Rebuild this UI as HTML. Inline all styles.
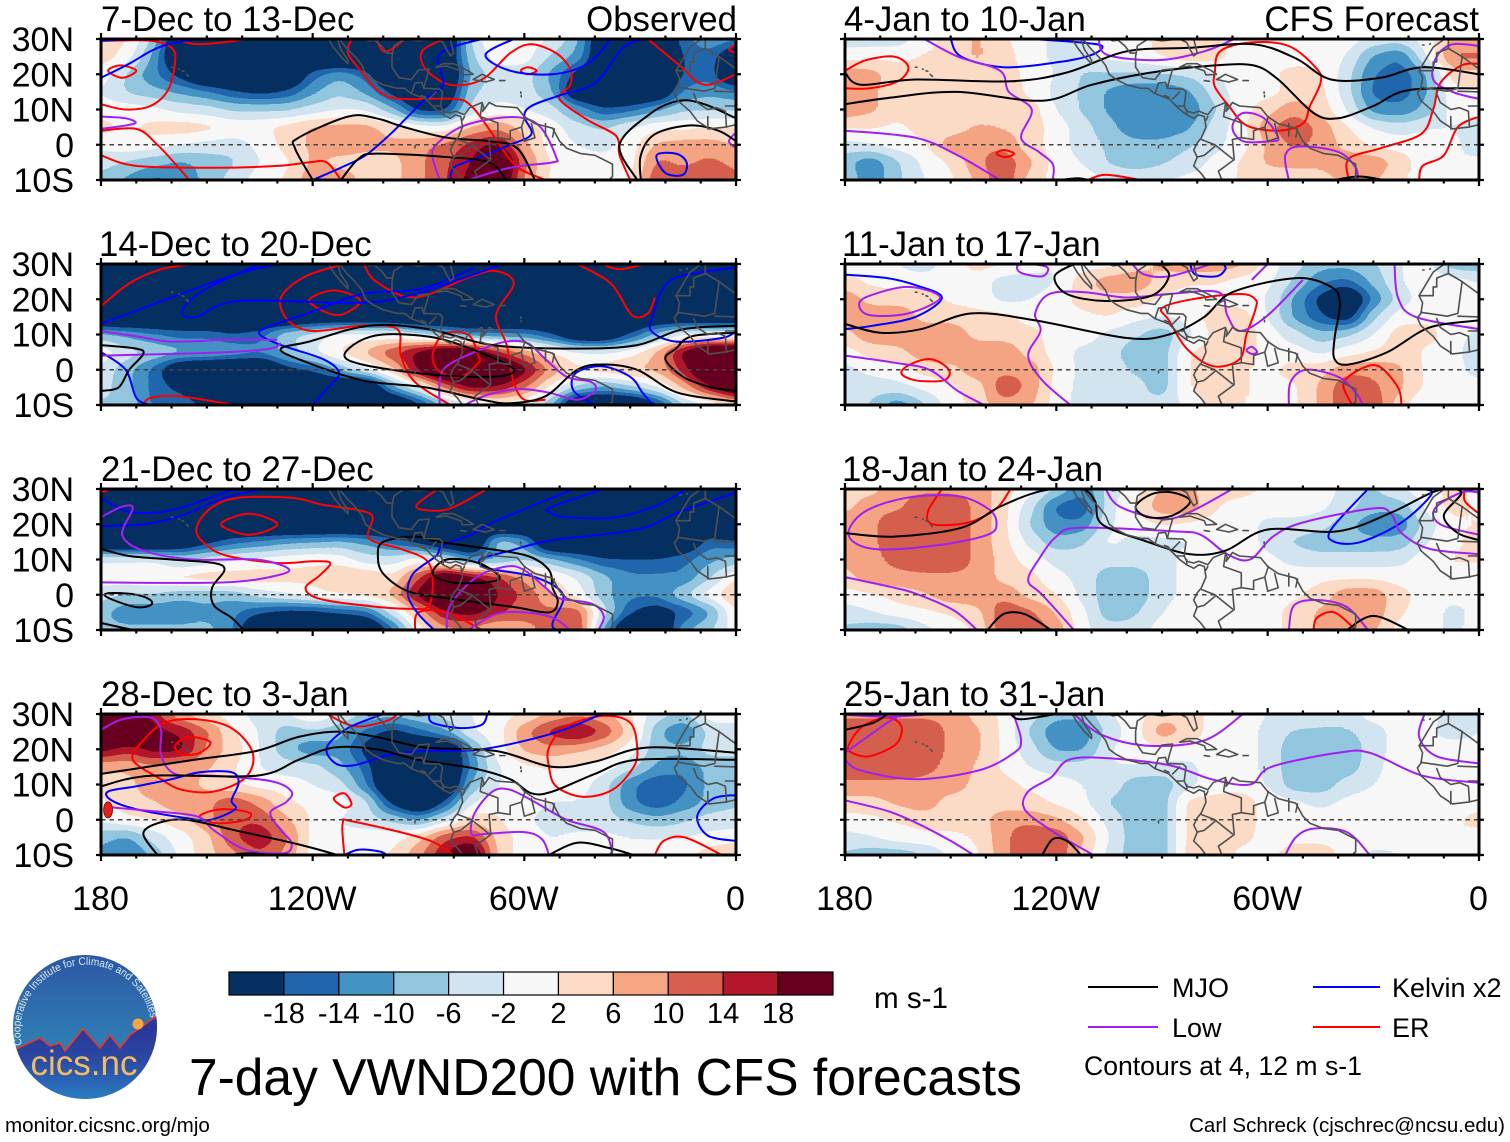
<!DOCTYPE html>
<html lang="en">
<head>
<meta charset="utf-8">
<title>7-day VWND200 with CFS forecasts</title>
<style>
html,body{margin:0;padding:0;background:#fff;}
svg{display:block;font-family:"Liberation Sans",sans-serif;}
</style>
</head>
<body>
<svg id="chart" xmlns="http://www.w3.org/2000/svg" width="1510" height="1142" viewBox="0 0 1510 1142">
  <defs>
    <filter id="bandFilter" filterUnits="userSpaceOnUse" x="0" y="0" width="1510" height="1142" color-interpolation-filters="sRGB">
      <feGaussianBlur stdDeviation="10 6.5"/>
      <feComponentTransfer>
        <feFuncR type="discrete" tableValues="0.020 0.020 0.020 0.129 0.263 0.573 0.820 0.969 0.992 0.957 0.839 0.698 0.404 0.404 0.404"/>
        <feFuncG type="discrete" tableValues="0.188 0.188 0.188 0.400 0.576 0.773 0.898 0.969 0.859 0.647 0.376 0.094 0.000 0.000 0.000"/>
        <feFuncB type="discrete" tableValues="0.380 0.380 0.380 0.675 0.765 0.871 0.941 0.969 0.780 0.510 0.302 0.169 0.122 0.122 0.122"/>
      </feComponentTransfer>
    </filter>
    <linearGradient id="logoSky" x1="0" y1="0" x2="0" y2="1">
      <stop offset="0" stop-color="#2c58a4"/>
      <stop offset="0.6" stop-color="#2f7cb4"/>
      <stop offset="1" stop-color="#2f7cb4"/>
    </linearGradient>
    <linearGradient id="logoGround" gradientUnits="userSpaceOnUse" x1="0" y1="1030" x2="0" y2="1099">
      <stop offset="0" stop-color="#2b3698"/>
      <stop offset="0.45" stop-color="#2b4aa4"/>
      <stop offset="1" stop-color="#2a7cc0"/>
    </linearGradient>
    <clipPath id="logoClip"><circle cx="85" cy="1027" r="72"/></clipPath>
    <path id="logoArc" d="M22 1045 A65.5 65.5 0 1 1 150 1016"/>
  </defs>
  <rect x="0" y="0" width="1510" height="1142" fill="#ffffff"/>
  <g id="panels"></g>

  <g font-size="34.8" fill="#000">
    <text x="101" y="31">7-Dec to 13-Dec</text>
    <text x="737" y="31" text-anchor="end">Observed</text>
    <text x="99" y="256">14-Dec to 20-Dec</text>
    <text x="101" y="481">21-Dec to 27-Dec</text>
    <text x="101" y="706">28-Dec to 3-Jan</text>
    <text x="844" y="31">4-Jan to 10-Jan</text>
    <text x="1479" y="31" text-anchor="end">CFS Forecast</text>
    <text x="842" y="256">11-Jan to 17-Jan</text>
    <text x="842" y="481">18-Jan to 24-Jan</text>
    <text x="844" y="706">25-Jan to 31-Jan</text>
  </g>

  <g id="colorbar"></g>
  <text x="874" y="1008" font-size="29.6">m s-1</text>

  <g>
    <circle cx="85" cy="1027" r="72" fill="url(#logoSky)"/>
    <g clip-path="url(#logoClip)">
      <path d="M12 1052 L18 1048 L40 1038 L50 1046 L60 1043 L65 1051 L83 1029 L100 1048 L110 1035 L120 1048 L130 1035 L158 1015 L165 1015 L165 1105 L5 1105 Z" fill="url(#logoGround)"/>
      <path d="M12 1052 L18 1048 L40 1038 L50 1046 L60 1043 L65 1051 L83 1029 L100 1048 L110 1035 L120 1048 L130 1035 L158 1015" fill="none" stroke="#e23a2c" stroke-width="1.6"/>
    </g>
    <circle cx="138" cy="1024" r="5.5" fill="#f5a742"/>
    <text font-size="11" fill="#dbe7f5"><textPath href="#logoArc" textLength="208" lengthAdjust="spacingAndGlyphs">Cooperative Institute for Climate and Satellites</textPath></text>
    <text x="84" y="1075" font-size="35" fill="#f3bb62" text-anchor="middle">cics.nc</text>
  </g>

  <text x="189" y="1095" font-size="51.5">7-day VWND200 with CFS forecasts</text>
  <text x="5" y="1132" font-size="20.6">monitor.cicsnc.org/mjo</text>
  <text x="1505" y="1132" font-size="20.5" text-anchor="end">Carl Schreck (cjschrec@ncsu.edu)</text>

  <g font-size="27">
    <line x1="1088" x2="1158" y1="987" y2="987" stroke="#000" stroke-width="2"/>
    <text x="1172" y="997">MJO</text>
    <line x1="1313" x2="1380" y1="987" y2="987" stroke="#0000ff" stroke-width="2"/>
    <text x="1392" y="997">Kelvin x2</text>
    <line x1="1088" x2="1158" y1="1027" y2="1027" stroke="#a020f0" stroke-width="2"/>
    <text x="1172" y="1037">Low</text>
    <line x1="1313" x2="1380" y1="1027" y2="1027" stroke="#ff0000" stroke-width="2"/>
    <text x="1392" y="1037">ER</text>
    <text x="1084" y="1075" font-size="26.6">Contours at 4, 12 m s-1</text>
  </g>
</svg>
<script>
/* Wind grids: rows at 30,25,...,-10 latitude; columns every 7.5 degrees from 180 to 0 */
const gridLats = [30,25,20,15,10,5,0,-5,-10];
const gridLonsWest = [180,172.5,165,157.5,150,142.5,135,127.5,120,112.5,105,97.5,90,82.5,75,67.5,60,52.5,45,37.5,30,22.5,15,7.5,0];
const yTickLabels = ["30N","20N","10N","0","10S"];
const yTickLats = [30,20,10,0,-10];
const xTickLabels = ["180","120W","60W","0"];
const xTickLons = [180,120,60,0];
const colorbarLabels = ["-18","-14","-10","-6","-2","2","6","10","14","18"];
const colorbarColors = ["#053061","#2166ac","#4393c3","#92c5de","#d1e5f0","#f7f7f7","#fddbc7","#f4a582","#d6604d","#b2182b","#67001f"];

const windDec7 = [
[4,2,-6,-28,-28,-28,-28,-28,-28,-28,-24,-28,-28,-28,-4,2,0,-2,-8,-24,-28,-28,-14,-10,-12],
[4,0,-10,-28,-28,-28,-28,-28,-28,-28,-28,-28,-28,-24,-6,0,0,-6,-10,-24,-28,-28,-16,-14,-24],
[0,-6,-12,-18,-28,-28,-28,-28,-14,-10,-14,-28,-28,-28,-8,-4,-4,-10,-18,-28,-28,-28,-16,-14,-28],
[-2,-6,-8,-10,-12,-16,-18,-16,-10,-6,-10,-18,-28,-24,-6,-4,-4,-8,-24,-28,-28,-24,-12,-10,-12],
[0,0,-1,-3,-4,-6,-6,-6,-4,-2,-2,-8,-18,-18,-4,0,-2,-4,-10,-16,-14,-10,-6,-6,-6],
[3,1,3,4,3,1,1,3,6,7,7,4,0,-1,6,8,4,0,-4,-6,-2,1,1,2,2],
[-1,1,0,-2,-3,-4,-1,3,6,8,6,6,8,10,14,18,6,0,-2,-3,0,6,7,7,5],
[-4,-6,-8,-10,-8,-6,-2,1,6,4,4,4,8,12,16,28,10,1,0,-1,0,10,8,10,8],
[-7,-10,-14,-12,-8,-4,0,2,8,8,4,4,8,12,18,24,8,1,0,0,1,12,12,12,10]];
const windDec14 = [
[-28,-28,-28,-28,-28,-28,-28,-28,-28,-28,-28,-28,-28,-28,-28,-28,-28,-28,-28,-28,-28,-28,-28,-28,-28],
[-28,-28,-28,-28,-28,-28,-28,-28,-28,-28,-28,-28,-28,-28,-28,-28,-28,-28,-28,-28,-28,-28,-28,-28,-28],
[-28,-28,-28,-28,-28,-28,-28,-28,-28,-28,-28,-28,-28,-28,-28,-28,-28,-28,-28,-28,-28,-28,-28,-28,-28],
[-28,-28,-28,-28,-28,-28,-28,-28,-24,-24,-24,-24,-28,-28,-28,-28,-28,-28,-28,-28,-28,-24,-24,-24,-24],
[-8,-10,-12,-14,-14,-16,-14,-6,-4,0,-1,-1,-4,-8,-12,-12,-12,-16,-24,-24,-16,-8,-2,-2,-2],
[1,-4,-6,-8,-8,-10,-12,-8,-2,2,6,12,18,24,24,14,8,2,-1,-2,0,6,18,28,28],
[-3,-8,-14,-24,-28,-28,-28,-18,-16,-8,-2,4,18,28,28,28,18,8,2,4,6,6,14,28,28],
[-4,-8,-14,-18,-28,-28,-28,-28,-28,-28,-28,-10,-2,10,18,16,10,1,-6,-10,-6,-2,6,16,24],
[-6,-6,-14,-12,-18,-28,-28,-28,-28,-28,-28,-28,-18,-8,-4,0,-2,-8,-28,-28,-28,-18,-6,-2,4]];
const windDec21 = [
[-28,-28,-28,-28,-28,-28,-28,-28,-28,-28,-28,-28,-28,-28,-28,-28,-28,-28,-28,-28,-28,-28,-28,-28,-28],
[-28,-28,-28,-28,-28,-28,-28,-28,-28,-28,-28,-28,-28,-28,-28,-28,-28,-28,-28,-28,-28,-28,-28,-28,-28],
[-28,-28,-28,-28,-28,-28,-28,-28,-28,-28,-28,-28,-28,-28,-28,-28,-28,-28,-28,-28,-28,-28,-28,-28,-28],
[-28,-28,-28,-24,-18,-14,-12,-10,-9,-8,-10,-14,-18,-24,-28,-6,-10,-28,-28,-28,-28,-28,-24,-14,-16],
[-2,-2,-2,-6,-4,-2,-1,0,1,0,-4,-4,0,-4,-12,-10,-6,-8,-12,-16,-16,-16,-14,-10,-8],
[0,1,2,3,4,4,4,3,3,6,6,2,12,24,18,14,8,2,-2,-8,-12,-12,-12,-6,2],
[-4,-6,-6,-8,-8,-8,-4,-2,0,2,3,6,18,28,28,16,12,6,0,-8,-12,-12,-6,0,6],
[-8,-12,-12,-12,-10,-12,-16,-18,-18,-16,-14,-4,6,16,18,14,10,10,12,-4,-16,-20,-16,-10,2],
[-8,-8,-8,-8,-8,-12,-28,-28,-28,-28,-28,-14,0,8,8,4,8,10,14,-10,-28,-28,-10,-6,0]];
const windDec28 = [
[24,28,14,6,2,0,-4,-2,2,-2,-6,-8,-6,-4,-2,0,2,6,8,6,2,-4,-6,0,0],
[28,28,18,16,10,2,-2,-8,-6,-8,-14,-18,-14,-10,-2,0,8,14,18,12,4,-8,-14,-4,-4],
[18,14,18,18,8,4,-2,-8,-12,-10,-18,-28,-28,-28,-10,0,6,8,6,4,0,-8,-8,-4,-4],
[6,6,8,6,6,2,-2,-4,-4,-8,-14,-28,-28,-28,-12,-2,1,2,1,0,-4,-10,-12,-8,-8],
[3,4,8,8,4,2,0,0,-2,-4,-12,-28,-28,-28,-8,-2,0,0,0,-4,-12,-16,-14,-8,-6],
[1,4,5,8,8,12,8,2,1,0,-4,-18,-28,-16,-2,1,0,-2,-2,-4,-12,-16,-12,-8,-6],
[-1,1,2,4,8,12,12,6,1,-2,-4,-6,-10,-4,4,2,-1,-4,-4,-4,-6,-8,-6,-4,-4],
[-8,-10,-4,0,4,12,16,10,0,-1,0,0,4,12,14,4,0,-2,-1,-1,-2,-2,-2,-1,0],
[-10,-14,-8,-1,4,8,12,8,0,0,0,2,8,16,24,4,0,-1,0,0,0,0,0,4,6]];
const windJan4 = [
[-4,-4,-4,0,3,6,2,0,-3,-2,0,0,3,3,2,0,0,0,0,0,-3,-4,0,6,6],
[0,1,1,2,3,6,3,0,-3,-3,-1,0,2,4,3,0,0,0,1,-2,-10,-13,-2,10,10],
[8,7,3,3,3,3,3,1,-2,-6,-6,-6,-6,-5,-2,0,1,3,2,-4,-13,-15,-10,4,4],
[8,6,3,3,3,3,4,1,-3,-6,-10,-12,-12,-10,-4,0,0,3,3,-4,-14,-15,-10,1,1],
[8,6,3,3,2,2,4,4,-2,-6,-10,-12,-12,-12,-6,0,4,8,4,-2,-11,-12,-8,0,0],
[2,2,1,3,3,6,5,4,0,-4,-8,-12,-12,-10,-4,0,8,12,8,2,-2,-4,-2,-2,-4],
[-3,-2,0,1,8,8,8,3,0,-4,-6,-8,-8,-6,-3,0,6,10,8,4,1,0,0,-1,-4],
[-8,-12,-6,-1,2,8,12,6,0,-2,-6,-8,-6,-4,-1,2,6,6,6,8,8,4,-1,-2,-1],
[-6,-12,-6,-2,1,6,12,4,0,0,-2,-2,-2,-1,0,2,3,4,4,6,6,2,0,-2,0]];
const windJan11 = [
[0,0,-2,-4,0,3,2,0,-2,0,0,4,6,8,8,6,0,-4,-8,-8,-6,-2,0,-8,-8],
[3,1,0,0,0,0,-4,-4,-2,4,8,8,4,2,2,0,-1,-6,-12,-14,-8,-2,0,0,-2],
[8,4,4,4,1,0,-3,-2,0,3,4,4,1,0,0,0,-2,-10,-18,-26,-12,-4,0,0,0],
[8,8,8,4,4,3,3,0,0,1,2,-1,-2,-1,4,4,-2,-10,-16,-20,-6,0,1,0,0],
[4,8,8,8,8,4,4,3,0,0,-3,-5,-8,-3,3,4,0,-4,-8,-6,-2,4,3,0,-3],
[0,3,4,8,8,8,8,4,0,-3,-4,-8,-8,2,3,4,0,0,-3,0,2,4,1,0,-6],
[-3,-1,0,3,4,8,8,8,1,-3,-4,-6,-8,2,3,2,1,3,4,8,8,6,1,0,-4],
[-4,-4,-3,-1,1,3,12,8,0,-3,-4,-4,-8,2,3,2,1,1,6,12,10,6,1,0,0],
[-1,-6,-12,-6,0,3,8,6,0,-4,-4,-4,-4,-1,3,2,0,1,6,12,12,3,-2,0,0]];
const windJan18 = [
[3,4,8,8,8,8,3,0,-6,-12,-4,0,6,6,3,3,1,0,0,-3,-6,-2,0,3,0],
[4,8,8,12,12,8,3,-4,-14,-16,-3,2,8,8,2,0,0,0,-1,-4,-8,-8,-1,3,1],
[8,8,12,12,12,8,3,-6,-12,-12,-2,0,2,1,0,0,-3,-3,-4,-8,-12,-12,-4,1,2],
[8,8,12,12,12,8,3,-3,-8,-6,-1,-3,-3,-2,0,0,-3,-6,-8,-8,-8,-8,-2,1,3],
[6,8,10,12,12,8,4,0,-3,-4,-4,-4,-3,-1,0,0,-1,-3,-4,-4,-4,-3,0,2,2],
[4,8,8,8,8,8,4,3,-1,-3,-8,-8,-3,-1,0,-2,0,0,1,1,1,0,0,0,0],
[0,1,3,5,8,8,8,4,2,-3,-8,-8,-3,-1,0,0,0,1,3,8,8,3,0,-1,0],
[-4,-2,0,1,2,4,12,10,5,-1,-8,-6,-2,0,0,0,0,3,6,8,8,2,0,-3,-1],
[-6,-8,-8,-3,0,2,12,12,8,-1,-4,-4,0,2,0,0,0,3,6,8,6,0,0,-3,0]];
const windJan25 = [
[8,8,8,8,8,4,1,-4,-8,-8,-2,0,4,4,0,0,-2,-2,-4,-4,0,0,0,-4,-4],
[12,12,12,12,8,6,1,-6,-12,-12,-4,0,8,4,0,0,-3,-6,-6,-6,-4,0,-1,-4,-2],
[12,12,12,12,8,6,1,-4,-10,-10,-2,0,1,0,0,0,-3,-8,-8,-8,-4,0,0,0,0],
[12,12,12,10,8,5,1,-2,-4,-4,-2,-2,-3,-3,0,0,-3,-8,-8,-8,-3,0,0,0,0],
[8,8,8,8,8,4,3,1,0,-2,-3,-8,-8,-3,0,0,-2,-8,-8,-4,-2,0,0,0,0],
[4,4,6,8,3,3,3,3,1,-1,-6,-8,-8,3,3,4,0,-1,-3,-1,0,0,0,0,0],
[0,1,2,3,3,3,8,8,6,2,-3,-8,-8,3,3,4,0,0,0,0,0,0,0,1,3],
[-3,-2,0,1,1,2,8,12,12,6,-2,-8,-8,3,3,3,0,1,1,1,0,0,0,2,0],
[-6,-8,-8,-6,-1,1,8,12,12,4,-3,-8,-8,3,6,0,1,3,3,1,-3,-2,0,0,0]];

/* Contours: each line is a list of [degrees west, latitude] */
const erDec7 = [
[[180,29.5],[166,29.5],[160,27.5],[159,23.5],[161,15.5],[166,11],[173,10],[180,11.5]],
[[178,21],[174.5,22.5],[170,21],[174,19],[178,21]],
[[159,30],[152,28.5],[138,30]],
[[109,30],[110,26],[106,20.5],[101,15],[95,13],[80,13],[75,11],[69,3],[65,-3],[61,-7],[54,-10]],
[[102,30],[100,26.5],[97,27.5],[94,30]],
[[83,30],[89,26.5],[88,21.5],[81,17],[72,18.5],[64,26],[58,28.5],[51,26],[47,21.5],[47,17],[50,13],[42,7],[34,2.5],[33,-3],[30,-10]],
[[61,21],[59,22],[56.5,21],[59,20],[61,21]],
[[25,30],[16,22.5],[9,17],[0,20]],
[[0,28.5],[2,27],[0,26]],
[[180,-3],[170,-6],[148,-6.5],[130,-6],[121,-5],[116,-5],[112,-10]],
[[180,4],[170,4.5],[164,0],[158,-6.5],[155,-10]]];
const kelvinDec7 = [
[[180,19],[172,23],[166,26.5],[161,28.5],[153,30]],
[[180,29.5],[168,30]],
[[72,30],[81,27.5],[84.5,24.5],[83,17],[88,13],[93,8],[98,3],[105,-3],[112,-6.5],[120,-10]],
[[63,30],[71,25.5],[64,21],[52,20],[42,23],[35.5,30]],
[[26,30],[32,27.5],[40,17.5],[50,14],[58,11],[60,8],[58,3],[64,0],[74,-4],[80,-6.5],[81,-10]],
[[22.5,-3],[17,-2.5],[14,-5],[15,-8.5],[20,-8],[22.5,-3]]];
const lowDec7 = [
[[180,8],[173,7.5],[170.5,6],[180,4.5]],
[[84,-10],[86,-3.5],[85,0],[78,5],[68,7.5],[60,7.5],[55,4.5],[51,-3.5],[52,-5],[64,-6.5],[76,-10]],
[[0,3.5],[2,1],[0,-1]]];
const mjoDec7 = [
[[120,-10],[125,-1],[124,2],[110,8],[102,7.5],[94,5],[82,2],[70,1],[62,-1],[57,-10]],
[[112,-10],[107,-4],[102,-2.5],[82,-3.5],[70,-5],[65,-10]],
[[28,-10],[33,0],[24,9],[16,12.5],[9,11.5],[0,7.5]],
[[27,-10],[27,-3],[23,3],[13,5.5],[5,4],[0,1]]];

const erDec14 = [
[[180,18],[172,24.5],[163,28.5],[154,30]],
[[111,30],[122,26.5],[129,20.5],[127,14],[120,11],[106,12.5],[96,11.5],[95,4],[91,-3.5],[81,-10]],
[[121,19.5],[114,22.5],[106.5,19.5],[113,15.5],[121,19.5]],
[[105.5,30],[102,25],[91,20.5],[75,26.5],[68,28],[63,24.5],[68,15.5],[65,7],[63,-3.5],[60,-8.5],[54,-8.5]],
[[86,4],[83,10],[76,10],[73,4],[73,2],[78,-2],[84,-0.5],[86,4]],
[[45,30],[35.5,24.5],[29.5,15.5],[25,16],[23,20.5]],
[[38,30],[33,28.5],[26,30]],
[[168,-10],[166,-8],[158,-7.5],[142,-10]]];
const kelvinDec14 = [
[[180,13],[160,20.5],[142,27],[130,30]],
[[135,30],[151,22.5],[157,16.5],[153,15],[141,19.5],[107,19],[91,21.5],[66,30]],
[[74,29],[89,23],[106,21.5],[120,16.5],[133,12],[135,10],[129,7],[117,3],[112.5,-1],[116,-5.5],[120,-10]],
[[180,5],[173,0],[170,-8],[166,-10]],
[[0,29],[16,26.5],[21,22.5],[23.5,15.5],[24,11],[17,8],[4,9],[0,11]],
[[40,-10],[46,-6],[45.5,-1],[38,1],[30,-2],[26.5,-6.5],[23.5,-10]]];
const lowDec14 = [
[[180,11],[170,9.5],[160,8],[144,8.5],[130,8.5]],
[[180,4],[160,4.5],[144,5],[132,6],[129,7.5]],
[[84,-10],[84,-3.5],[82,1],[73,5.5],[65,8],[59,7.5],[54,3],[48,-2],[41,-3.5],[40,-6],[45,-8.5],[53,-6.5],[61,-5.5],[70,-7],[77,-10]]];
const mjoDec14 = [
[[180,7],[170,6],[168,4.5],[172,0],[175,-5],[180,-6]],
[[0,12.5],[15,11.5],[28,7],[45,6],[69,7],[87,11.5],[104,12.5],[121,8],[129,6],[124,3],[106,-3],[88,-5],[72,-8.5],[64,-9.5],[54,-7.5],[45,0],[37.5,1.5],[28,0],[16.5,-6.5],[0,-9]],
[[0,10.5],[12.5,9.5],[17,6],[20,3],[15,-2],[7,-5],[0,-6]],
[[111,4],[107,8],[100,10],[88,9.5],[78,7],[64,1],[65,-1.5],[76,-2],[90,-1],[106,1.5],[111,4]]];

const erDec21 = [
[[180,29],[177,30]],
[[144,11],[130,9],[120,9.5],[115,9],[118,5.5],[122,2],[118.5,-1],[106,-3],[92,-4],[87,-3],[86,5],[88,10],[95,13],[104,16],[103,22],[107,24],[117,25.5],[126,27.5],[141,27.5],[149,24.5],[153,18.5],[150,14],[144,11]],
[[146,20],[138,23],[130,20],[138,17],[146,20]],
[[70.5,30],[81,24.5],[88,24],[90.5,25.5],[84.5,30]],
[[91,-10],[90,-5],[82,-5],[72,-10]]];
const kelvinDec21 = [
[[180,27.5],[172,23.5],[160,24],[142,30]],
[[180,19.5],[168,20],[157,22.5],[145,27.5],[133.5,30]],
[[46,30],[69,20.5],[74,17.5],[83,14],[85,11],[91.5,6],[93,0],[90,-5.5],[85.5,-10]],
[[0,29],[16,23.5],[28,18.5],[52,15.5],[64,12.5],[72.5,10],[70,7.5],[57,5],[49,0],[52,-8],[51,-10]],
[[37.5,30],[52,25],[53,23.5],[48,22],[34,22],[22,25.5],[14,30]]];
const lowDec21 = [
[[180,22],[174,25],[171,24.5],[174,17],[168,12.5],[154,10],[136,10],[127,7.5],[130,5.5],[145,3.5],[180,3.5]],
[[82,-10],[81,-3],[73.5,5],[65,8],[60,7],[54,2],[50,-1],[41,-2.5],[37.5,-6],[39,-10]],
[[76,-10],[68,-5.5],[60,-5],[52,-6.5],[47,-10]]];
const mjoDec21 = [
[[180,13],[172,11],[160,10],[148,9],[145,7],[148.5,2],[148,-3],[143,-6.5],[139.5,-10]],
[[179,0],[176.5,0.5],[170,0],[166,-1.5],[166,-3],[170,-3.5],[176.5,-1.5],[179,0]],
[[180,-8],[171,-10]],
[[100,15],[91,16.5],[84,15],[70,13],[59,11],[53,7],[52,2],[50.5,-2],[53,-5],[63,-3.5],[82,-1],[93,1],[100,6],[101.5,11],[100,15]],
[[86,6],[82,10],[73,9],[67,5],[71,3.5],[80.5,3.5],[86,6]]];

const erDec28 = [
[[116,30],[108,26.5],[99,28],[96,30]],
[[171,17],[168,22.5],[162,27.5],[153,28.5],[143,26],[137,19],[139,12],[148,8],[157,8.5],[163,11.5],[171,17]],
[[159,21],[155,23.5],[149,22],[152,19],[157,18.5],[159,21]],
[[114,6],[111,7.5],[109,4.5],[111,3.5],[114,6]],
[[152,1],[146,3],[138,2],[139,0],[147,-1],[152,1]],
[[111,-10],[111.5,-1],[108.5,-0.5],[88,-5.5],[80,-10]],
[[53,15],[53,20.5],[48,26.5],[37.5,29.5],[30,27.5],[28,20.5],[29,15],[35,8.5],[43.5,6.5],[51,9.5],[53,15]],
[[23,-10],[20.5,-6],[14.5,-5],[4,-10]]];
const kelvinDec28 = [
[[100,30],[110,26],[116,20.5],[113.5,16],[108,15.5],[98,18.5],[88,19.5],[72,20],[52,24.5],[38,30]],
[[87,30],[86,27.5],[78,26],[72,27],[70.5,30]],
[[178,8],[170,9.5],[160,11.5],[152,13.5],[143,13.5],[141,10.5],[143,5.5],[142,3],[149,0],[156,0.5],[170,3],[177,5.5],[178,8]],
[[0,7],[6.5,6],[11,1],[8,-4.5],[0,-6]],
[[111,-10],[107,-8.5],[101,-9],[99,-10]]];
const lowDec28 = [
[[180,25.5],[174,28.5],[166,29],[163,25.5],[163,18.5],[159,13],[148,12.5],[132,11],[126,8],[127.5,5],[132,2],[129,-3],[126,-6.5],[128,-9.5],[139,-8.5],[148,-3],[153,1],[166,2.5],[177,3.5]],
[[35,-10],[37.5,-3.5],[48,0],[57,5],[64,8.5],[69,8],[74,2],[75,-4],[71,-4],[60,-3.5],[55,-5.5],[53,-10]]];
const mjoDec28 = [
[[180,13],[153.5,17],[136,19.5],[124,23.5],[113,25],[102,23.5],[88,20.5],[68,19.5],[52,15],[40,16.5],[25,20.5],[0,19]],
[[180,9.5],[166,12.5],[136,12.5],[124,17],[114,20.5],[102,20],[90,17],[74,14.5],[64,11.5],[58,7.5],[52,8],[40,13],[28,17],[0,17]],
[[164,-10],[168,-4],[164,-1],[156,0],[142,-3],[124,-7],[113,-10]],
[[144,-10],[138,-9.5],[132,-10]],
[[53,-10],[45,-6.5],[36,-8],[29,-10]]];

const erJan4 = [
[[180,21],[174,24],[166,25],[162,22],[165,18],[173,16],[180,16]],
[[137,-2.5],[135,-1.5],[132,-2.5],[134.5,-3.5],[137,-2.5]],
[[111,-10],[106,-8.5],[96,-10]],
[[75,20.5],[73.5,26.5],[65,29],[54,28],[46,21.5],[45,17.5],[48,11],[50,6],[57,4],[66,5.5],[71,11],[75,16.5],[75,20.5]],
[[17,-10],[16,-6],[10,-3],[6,5],[0,8]],
[[37,-10],[37,-4],[28,-1],[16.5,3],[13,10],[11,17.5],[5,22.5],[0,23]]];
const kelvinJan4 = [
[[150,30],[147,25],[135,22],[119,23.5],[110,25.5],[107,28],[113,29],[127,30]]];
const lowJan4 = [
[[157.5,30],[148,25],[136,21],[133.5,15],[127,10],[130,2],[125,-2],[121,-5.5],[121,-10]],
[[180,4],[160,2],[148,-3],[136,-10]],
[[108,30],[105.5,25.5],[91,24],[78,26.5],[69.5,30]],
[[70,5],[67,9],[61,7.5],[57,2],[59,1],[67,1],[70,5]],
[[54,-10],[55,-3],[51,-0.5],[40,-2],[35,-6.5],[34.5,-10]],
[[0,28],[7.5,28.5],[12,25],[13,18.5],[7.5,15],[0,13]]];
const mjoJan4 = [
[[180,20.5],[175.5,17],[160,18.5],[133,18],[117,20.5],[100,26.5],[82,27.5],[64,28.5],[52,24.5],[42,18.5],[28,19],[16,22],[0,20]],
[[180,11.5],[166,13.5],[148,15],[124,12.5],[110,17],[93,20.5],[75,22.5],[64,22.5],[57,18.5],[47,9],[40,7.5],[30,11],[20,15.5],[0,16]],
[[119,-10],[114,-9.5],[111,-10]],
[[41,-10],[34,-9],[27,-10]]];

const erJan11 = [
[[164,-1],[161.5,1.5],[155.5,3],[150.5,0],[152,-3],[160,-3],[164,-1]],
[[90,17.5],[81.5,20],[68,21.5],[63.5,20],[63.5,17],[66,10],[68,3],[75.5,1],[83,6],[88,14],[90,17.5]],
[[36,-10],[38.5,-4],[34,0],[28.5,1],[23,-5],[22,-10]]];
const kelvinJan11 = [
[[180,27],[168,26],[160,24],[152.5,20.5],[160,15],[172,12.5],[180,11.5]],
[[82,30],[80.5,27],[74.5,26.5],[72,28.5],[72.5,30]]];
const lowJan11 = [
[[176,18.5],[173,21],[162,23.5],[153,20.5],[162,16],[173,15.5],[176,18.5]],
[[180,4],[166,2],[156,0],[148,-6],[140.5,-10]],
[[131,29.5],[127.5,30],[122.5,29],[124,26.5],[130,27.5],[131,29.5]],
[[116,-10],[124,-3],[128,4],[124.5,11],[126,16],[122,21.5],[112,22],[100,20.5],[88,21.5],[74,22],[71.5,15.5],[68,11],[60.5,15],[50,25.5]],
[[98.5,30],[95,27],[88,26.5],[76,30]],
[[64.5,25.5],[60,30]],
[[66,5.5],[64.5,6.5],[63,5],[64.5,4.5],[66,5.5]],
[[54,-10],[53.5,-3.5],[49,0],[40,-2],[35,-6.5],[33,-10]],
[[24,30],[23,20.5],[18,15],[0,11.5]]];
const mjoJan11 = [
[[180,13],[170,10.5],[158.5,11.5],[144,16],[126,14],[100,9],[88,10],[78,15],[70,22],[52,26],[42,23.5],[39.5,19],[41,9],[41,3],[37,1.5],[26,5],[14,12],[0,14]],
[[115,30],[120.5,26.5],[117,21.5],[106,19.5],[93,21],[88,26.5],[90.5,30]]];

const erJan18 = [
[[152.5,30],[156.5,23.5],[155,20],[145,20.5],[137,24.5],[133,30]],
[[47,-10],[46,-6.5],[41,-5],[35,-10]],
[[4,30],[4,26.5],[0,23]]];
const kelvinJan18 = [
[[31.5,30],[42,18.5],[41,15],[33.5,15],[22,20.5],[13.5,28.5],[16.5,30]]];
const lowJan18 = [
[[179,17],[174.5,23.5],[162.5,27.5],[148,28],[139.5,24.5],[137,20.5],[139.5,17],[154,14],[172,13],[179,17]],
[[180,5],[166,2],[159,0],[149,-4.5],[142.5,-10]],
[[115,-10],[124,0],[128,4],[125,10],[120,16.5],[113.5,19],[87,18],[79,17],[71.5,11.5],[65,10],[58.5,16.5],[50,20.5],[30,24.5],[25,23],[22,17.5],[14,13],[0,11.5]],
[[106,30],[102,25],[90,21.5],[82,23.5],[70,30]],
[[54,-10],[52.5,-3],[46,-1.5],[37.5,-3.5],[31.5,-10]],
[[0,29],[5,29],[12.5,24.5],[11,20],[0,17]]];
const mjoJan18 = [
[[180,17.5],[166,16.5],[147,19],[136,25],[124,29.5],[113,30],[109,26.5],[107,20],[94,15],[82,11.5],[72,12.5],[60,18.5],[40,18],[24.5,23.5],[12,29.5],[5,29],[10,22.5],[6,17.5],[0,15.5]],
[[97.5,25],[93,28.5],[87,29],[82,26.5],[87,22.5],[94,22],[97.5,25]],
[[139.5,-10],[135,-5.5],[129,-5.5],[121.5,-10]],
[[37.5,-10],[30,-6],[20,-10]]];

const erJan25 = [
[[179,21],[175,26.5],[168,29],[164,26.5],[165.5,21.5],[173,18],[178,19],[179,21]]];
const kelvinJan25 = [];
const lowJan25 = [
[[180,19],[168,27.5],[163.5,30]],
[[180,29.8],[168,29.2],[155,30]],
[[180,17],[175.5,14],[160,11.5],[142,14],[132,19],[130,22.5],[132,29.5]],
[[180,5.5],[168,2.5],[159.5,-1],[150,-6],[143.5,-10]],
[[109.5,-10],[121.5,-3],[129,3],[128,8],[121.5,12],[116.5,17],[106,17.5],[88,15.5],[76,11.5],[65,10],[59,15],[40,19],[31,19],[16,12.5],[0,10.5]],
[[115,30],[107,24],[94,21],[78,22.5],[67,30]],
[[55,-10],[52,-5],[47,-2.5],[37.5,-3.5],[31,-10]],
[[15.5,30],[17,23.5],[12,18],[0,16]]];
const mjoJan25 = [
[[180,25.5],[172,27.5],[168,30]],
[[133,30],[130,28.5],[120,30]],
[[124,-10],[121,-5.5],[117,-6],[113,-10]]];

const coastLines = [
[[115.5,30],[114,27.5],[112,25],[110,23],[110,24],[112,27],[113,30]],
[[112.5,30],[110,27],[108,25],[106,22.5],[105,20],[103,18.5],[100,17],[96,16],[94,16],[92,14.5],[88,13],[86,11],[85,10],[83,8.5],[81,7.5],[79.5,8.5],[78,8],[77.5,5],[78.8,2],[80,0.5],[81,-1.5],[80,-3.5],[81,-6],[79,-8],[77.5,-10]],
[[94,30],[97,28],[97.5,25],[97.5,22],[95.5,19],[92,18.5],[90.5,20.5],[90,21.2],[87,21.5],[88,18],[88.5,16],[84,15.8],[83.2,15],[83.7,11],[83,9.5],[81,9],[79.5,9.5],[77,8.5],[75.5,10.5],[72,12],[71.5,10.5],[71.8,9.5],[71,10.5],[70,12],[68,11],[62,10.5],[60,8],[57,6],[52,4.7],[50,1],[48,-1],[44,-2.5],[40,-3],[35,-5.5],[35,-9],[36,-10]],
[[94,30],[90,29.5],[85,30],[83,29],[82,27],[81,25.2],[80,26],[80.5,28],[81,30]],
[[106.5,30.5],[104,29.5],[102.5,29.7],[100.5,28],[99,26],[97.3,26]],
[[92,14.5],[91,17.5],[89,17.7],[88.5,16]],[[89.3,14],[88,13.5]],[[87,13],[85,15]],[[85.7,11],[83.7,11]],[[83,8.5],[83,10]],[[77,8],[77.5,7]],
[[85,22],[83,23],[80,23],[76,21],[74.5,20],[77.5,19.8],[78,21],[82,22.3],[85,22]],
[[74.5,18.5],[72,20],[68.5,18.5],[71,17.8],[74.5,18.5]],
[[78,18.2],[76.5,18]],[[67,18.2],[65.5,18.2]],
[[72,11.5],[72.5,8],[67.5,6.2],[67.5,2],[70,1.5],[69.5,-4.2],[74,-7.5],[73,-10]],
[[78.8,1.5],[75,0],[70,-4]],[[80,-3.5],[78,-3],[75,-0.5]],
[[67.5,2],[64,1.5],[64,4],[60.8,5],[59.8,8]],
[[60.8,5],[60,1],[57,2],[58,6]],[[54,2.5],[54,6]],[[52,2.2],[51.5,4.5]],
[[9.8,30],[13,27.7],[17,21],[16,19],[16.5,16],[17.5,14.7],[16.5,12.5],[13,9.5],[11,6.8],[7.5,4.5],[3,5],[0,5.7]],
[[17,21],[13,21],[13,23.5],[12,23.5],[12,26],[8.7,27.3],[8.7,30]],
[[8.7,27.3],[4.8,25],[6,16],[9,15.2],[16.5,16.3]],[[4.8,25],[0,21.5]],
[[12,14.5],[11,12],[8,10],[5.5,10.5],[3,9.5],[2.7,5]],[[8,8],[8,4.5]],[[0,15],[6,15.2]],[[0,11],[3,11]],
[[160,22],[159.6,22]],[[158,21.5],[157.8,21.4]],[[157,21],[156.5,20.8]],[[155.8,20],[155.2,19.4]],
[[91,-0.3],[91,-0.9]],[[16,28.3],[15.6,28.3]],[[14,28.5],[13.8,28.7]],[[61,15],[61,14.6]],[[60.9,14],[60.9,13.6]]
];

const panelData = [
 {left:101,width:635,top:39,wind:windDec7,er:erDec7,kelvin:kelvinDec7,low:lowDec7,mjo:mjoDec7,id:'dec-7',xLabels:false},
 {left:101,width:635,top:264,wind:windDec14,er:erDec14,kelvin:kelvinDec14,low:lowDec14,mjo:mjoDec14,id:'dec-14',xLabels:false},
 {left:101,width:635,top:489,wind:windDec21,er:erDec21,kelvin:kelvinDec21,low:lowDec21,mjo:mjoDec21,id:'dec-21',xLabels:false},
 {left:101,width:635,top:714,wind:windDec28,er:erDec28,kelvin:kelvinDec28,low:lowDec28,mjo:mjoDec28,id:'dec-28',xLabels:true},
 {left:845,width:634,top:39,wind:windJan4,er:erJan4,kelvin:kelvinJan4,low:lowJan4,mjo:mjoJan4,id:'jan-4',xLabels:false},
 {left:845,width:634,top:264,wind:windJan11,er:erJan11,kelvin:kelvinJan11,low:lowJan11,mjo:mjoJan11,id:'jan-11',xLabels:false},
 {left:845,width:634,top:489,wind:windJan18,er:erJan18,kelvin:kelvinJan18,low:lowJan18,mjo:mjoJan18,id:'jan-18',xLabels:false},
 {left:845,width:634,top:714,wind:windJan25,er:erJan25,kelvin:kelvinJan25,low:lowJan25,mjo:mjoJan25,id:'jan-25',xLabels:true}
];

const NS = 'http://www.w3.org/2000/svg';
const PANEL_H = 141;
function make(tag, attrs, parent){
  const el = document.createElementNS(NS, tag);
  for (const k in attrs) el.setAttribute(k, attrs[k]);
  parent.appendChild(el);
  return el;
}
function windToGray(v){
  const c = Math.max(-30, Math.min(30, v * 1.1));
  const g = Math.round((c + 30) / 60 * 255);
  return 'rgb(' + g + ',' + g + ',' + g + ')';
}
function smoothPath(points, xScale, yScale){
  const pts = points.map(p => [xScale(p[0]), yScale(p[1])]);
  const n = pts.length;
  const first = points[0], last = points[n - 1];
  const closed = n > 3 && first[0] === last[0] && first[1] === last[1];
  const at = i => {
    if (closed) return pts[((i % (n - 1)) + (n - 1)) % (n - 1)];
    return pts[Math.max(0, Math.min(n - 1, i))];
  };
  let d = 'M' + pts[0][0].toFixed(1) + ' ' + pts[0][1].toFixed(1);
  for (let i = 0; i < n - 1; i++) {
    const p0 = at(i - 1), p1 = at(i), p2 = at(i + 1), p3 = at(i + 2);
    const c1x = p1[0] + (p2[0] - p0[0]) / 6, c1y = p1[1] + (p2[1] - p0[1]) / 6;
    const c2x = p2[0] - (p3[0] - p1[0]) / 6, c2y = p2[1] - (p3[1] - p1[1]) / 6;
    d += 'C' + c1x.toFixed(1) + ' ' + c1y.toFixed(1) + ' ' + c2x.toFixed(1) + ' ' + c2y.toFixed(1) + ' ' + pts[i + 1][0].toFixed(1) + ' ' + pts[i + 1][1].toFixed(1);
  }
  return d;
}

const root = document.getElementById('panels');
const defs = document.querySelector('defs');

panelData.forEach(function(panel){
  const xScale = w => panel.left + (180 - w) / 180 * panel.width;
  const yScale = lat => panel.top + (30 - lat) / 40 * PANEL_H;
  const clipId = 'clip-' + panel.id;
  const clip = make('clipPath', {id: clipId}, defs);
  make('rect', {x: panel.left, y: panel.top, width: panel.width, height: PANEL_H}, clip);

  const group = make('g', {}, root);
  
  

  const clipped = make('g', {'clip-path': 'url(#' + clipId + ')'}, group);
  const field = make('g', {filter: 'url(#bandFilter)'}, clipped);
  
  

  const pad = 36;
  gridLats.forEach(function(lat, r){
    const yc = yScale(lat);
    const halfH = (yScale(gridLats[1]) - yScale(gridLats[0])) / 2;
    const y0 = r === 0 ? yc - pad : yc - halfH;
    const y1 = r === gridLats.length - 1 ? yc + pad : yc + halfH;
    gridLonsWest.forEach(function(lon, c){
      const xc = xScale(lon);
      const halfW = (xScale(gridLonsWest[1]) - xScale(gridLonsWest[0])) / 2;
      const x0 = c === 0 ? xc - pad : xc - halfW;
      const x1 = c === gridLonsWest.length - 1 ? xc + pad : xc + halfW;
      const cell = make('rect', {x: x0, y: y0, width: x1 - x0 + 0.5, height: y1 - y0 + 0.5, fill: windToGray(panel.wind[r][c]), 'shape-rendering': 'crispEdges'}, field);
      
      
    });
  });

  [['er', '#ff0000'], ['kelvin', '#0000ff'], ['low', '#a020f0'], ['mjo', '#000000']].forEach(function(series){
    panel[series[0]].forEach(function(line){
      const path = make('path', {d: smoothPath(line, xScale, yScale), fill: 'none', stroke: series[1], 'stroke-width': 2}, clipped);
      
      
    });
  });

  const coast = make('g', {fill: 'none', stroke: '#505050', 'stroke-width': 1.6, 'stroke-linejoin': 'round', 'stroke-linecap': 'round'}, clipped);
  
  
  coastLines.forEach(function(seg){
    const pts = seg.map(p => xScale(p[0]).toFixed(1) + ',' + yScale(p[1]).toFixed(1)).join(' ');
    make('polyline', {points: pts}, coast);
  });

  const eq = make('line', {x1: panel.left, x2: panel.left + panel.width, y1: yScale(0), y2: yScale(0), stroke: '#444', 'stroke-width': 1.5, 'stroke-dasharray': '4.5 4'}, group);
  
  

  if (panel.id === 'dec-28') {
    const storm = make('ellipse', {cx: xScale(178), cy: yScale(2.8), rx: 4.5, ry: 8, fill: '#e3201b', stroke: '#7a0000', 'stroke-width': 0.8}, group);
    
    
  }

  const frame = make('rect', {x: panel.left, y: panel.top, width: panel.width, height: PANEL_H, fill: 'none', stroke: '#000', 'stroke-width': 3}, group);
  
  

  const ticks = make('g', {stroke: '#000', 'stroke-width': 2.2}, group);
  
  
  for (let w = 0; w <= 180; w += 10) {
    const len = w % 60 === 0 ? 6 : 3.5;
    make('line', {x1: xScale(w), x2: xScale(w), y1: panel.top, y2: panel.top - len}, ticks);
    make('line', {x1: xScale(w), x2: xScale(w), y1: panel.top + PANEL_H, y2: panel.top + PANEL_H + len}, ticks);
  }
  yTickLats.forEach(function(lat){
    make('line', {x1: panel.left, x2: panel.left - 5, y1: yScale(lat), y2: yScale(lat)}, ticks);
    make('line', {x1: panel.left + panel.width, x2: panel.left + panel.width + 5, y1: yScale(lat), y2: yScale(lat)}, ticks);
  });

  if (panel.left < 400) {
    yTickLabels.forEach(function(label, i){
      const t = make('text', {x: 74, y: yScale(yTickLats[i]) + 12, 'font-size': 34, 'text-anchor': 'end'}, group);
      t.textContent = label;
      
      
    });
  }
  if (panel.xLabels) {
    xTickLabels.forEach(function(label, i){
      const t = make('text', {x: xScale(xTickLons[i]) - 0.5, y: 910, 'font-size': 34, 'text-anchor': 'middle'}, group);
      t.textContent = label;
      
      
    });
  }
});

const bar = document.getElementById('colorbar');
const barLeft = 229, barWidth = 604, barTop = 972, barHeight = 23;
const boxW = barWidth / colorbarColors.length;
colorbarColors.forEach(function(color, i){
  const box = make('rect', {x: barLeft + i * boxW, y: barTop, width: boxW, height: barHeight, fill: color, stroke: '#000', 'stroke-width': 1.2}, bar);
  
  
});
colorbarLabels.forEach(function(label, i){
  const t = make('text', {x: barLeft + (i + 1) * boxW, y: 1023, 'font-size': 29, 'text-anchor': 'middle'}, bar);
  t.textContent = label;
  
  
});
</script>
</body>
</html>
